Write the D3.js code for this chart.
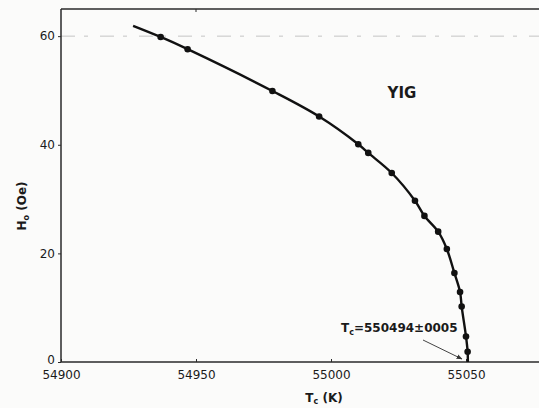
<!DOCTYPE html>
<html>
<head>
<meta charset="utf-8">
<script src="https://cdn.jsdelivr.net/npm/d3@7"></script>
<style>
  body { margin: 0; background: #fbfbfa; }
  svg { display: block; }
  text { font-family: "DejaVu Sans", sans-serif; fill: #1a1a1a; }
</style>
</head>
<body>
<div id="chart"></div>
<script>
// Data: temperature (K) vs field H (Oe)
const temps = [54936.9, 54946.9, 54978.3, 54995.6, 55010.1, 55013.8, 55022.5, 55031.1,
               55034.6, 55039.7, 55042.9, 55045.7, 55047.8, 55048.4, 55050.0, 55050.6];
const fields = [59.85, 57.6, 49.9, 45.2, 40.1, 38.5, 34.8, 29.7,
                26.9, 24.0, 20.8, 16.4, 12.9, 10.2, 4.7, 1.9];
// fitted curve extends beyond the measured points
const curveStart = [54926.7, 61.9];
const curveEnd = [55050.7, 0];

const xTicks = [54900, 54950, 55000, 55050];
const yTicks = [0, 20, 40, 60];

const width = 539, height = 408;

const x = d3.scaleLinear().domain([54900, 55078]).range([61, 541.6]);
const y = d3.scaleLinear().domain([0, 65]).range([362, 9]);

const svg = d3.select('#chart')
    .append('svg')
    .attr('width', width)
    .attr('height', height);

// faint scan gridline at 60
svg.append('line')
    .attr('x1', x(54900)).attr('x2', width)
    .attr('y1', y(60)).attr('y2', y(60))
    .attr('stroke', '#c4c4c4')
    .attr('stroke-width', 1)
    .attr('stroke-dasharray', '14,9,4,12');

// frame: top, left, bottom
const frameColor = '#2a2a2a';
svg.append('line')
    .attr('x1', x(54900)).attr('x2', width)
    .attr('y1', y(65)).attr('y2', y(65))
    .attr('stroke', frameColor).attr('stroke-width', 1.5);

// axes
const xAxis = svg.append('g')
    .attr('transform', `translate(0,${y(0)})`)
    .call(d3.axisBottom(x).tickValues(xTicks).tickSize(-3).tickPadding(8).tickFormat(d3.format('d')));
xAxis.select('.domain').attr('d', `M${x(54900)},0H${width}`)
    .attr('stroke', frameColor).attr('stroke-width', 1.5);
xAxis.selectAll('.tick line').attr('stroke', frameColor);
xAxis.selectAll('.tick text')
    .style('font-size', '12px')
    .style('font-family', '"DejaVu Sans", sans-serif')
    .attr('fill', '#1a1a1a');

const yAxis = svg.append('g')
    .attr('transform', `translate(${x(54900)},0)`)
    .call(d3.axisLeft(y).tickValues(yTicks).tickSize(3).tickPadding(3));
yAxis.select('.domain').attr('d', `M0,${y(65)}V${y(0)}`)
    .attr('stroke', frameColor).attr('stroke-width', 1.5);
yAxis.selectAll('.tick line').attr('stroke', frameColor);
yAxis.selectAll('.tick text')
    .style('font-size', '12px')
    .style('font-family', '"DejaVu Sans", sans-serif')
    .attr('fill', '#1a1a1a');
// lift the 0 label clear of the first x label
yAxis.selectAll('.tick text').filter(d => d === 0).attr('dy', '0.1em');

// small top tick
svg.append('line')
    .attr('x1', x(54950)).attr('x2', x(54950))
    .attr('y1', y(65)).attr('y2', y(65) + 3)
    .attr('stroke', frameColor);

// curve through the points
const pts = [curveStart].concat(temps.map((t, i) => [t, fields[i]])).concat([curveEnd]);
const line = d3.line()
    .x(d => x(d[0]))
    .y(d => y(d[1]))
    .curve(d3.curveCatmullRom.alpha(0.5));

svg.append('path')
    .datum(pts)
    .attr('d', line)
    .attr('fill', 'none')
    .attr('stroke', '#111')
    .attr('stroke-width', 2.4);

svg.selectAll('.dot')
    .data(temps)
    .enter()
    .append('circle')
    .attr('class', 'dot')
    .attr('cx', d => x(d))
    .attr('cy', (d, i) => y(fields[i]))
    .attr('r', 3.3)
    .attr('fill', '#111');

// YIG label
svg.append('text')
    .attr('x', 402)
    .attr('y', 98)
    .attr('text-anchor', 'middle')
    .style('font-size', '15px')
    .style('font-weight', 'bold')
    .text('YIG');

// Tc annotation
const ann = svg.append('text')
    .attr('x', 341)
    .attr('y', 332)
    .style('font-size', '12px')
    .style('font-weight', 'bold');
ann.append('tspan').text('T');
ann.append('tspan').attr('dy', 3).style('font-size', '8px').text('c');
ann.append('tspan').attr('dy', -3).text('=550494±0005');

svg.append('defs').append('marker')
    .attr('id', 'arrow')
    .attr('viewBox', '0 0 10 10')
    .attr('refX', 9).attr('refY', 5)
    .attr('markerWidth', 6).attr('markerHeight', 6)
    .attr('orient', 'auto')
    .append('path')
    .attr('d', 'M0,1L10,5L0,9Z')
    .attr('fill', '#333');

svg.append('line')
    .attr('x1', 423).attr('y1', 340)
    .attr('x2', 462).attr('y2', 359)
    .attr('stroke', '#444')
    .attr('stroke-width', 1)
    .attr('marker-end', 'url(#arrow)');

// axis titles
const xt = svg.append('text')
    .attr('x', 324)
    .attr('y', 402)
    .attr('text-anchor', 'middle')
    .style('font-size', '12px')
    .style('font-weight', 'bold');
xt.append('tspan').text('T');
xt.append('tspan').attr('dy', 2).style('font-size', '8px').text('c');
xt.append('tspan').attr('dy', -2).text(' (K)');

const yt = svg.append('text')
    .attr('transform', 'translate(26,206) rotate(-90)')
    .attr('text-anchor', 'middle')
    .style('font-size', '12px')
    .style('font-weight', 'bold');
yt.append('tspan').text('H');
yt.append('tspan').attr('dy', 3).style('font-size', '8px').text('o');
yt.append('tspan').attr('dy', -3).text(' (Oe)');
</script>
</body>
</html>
